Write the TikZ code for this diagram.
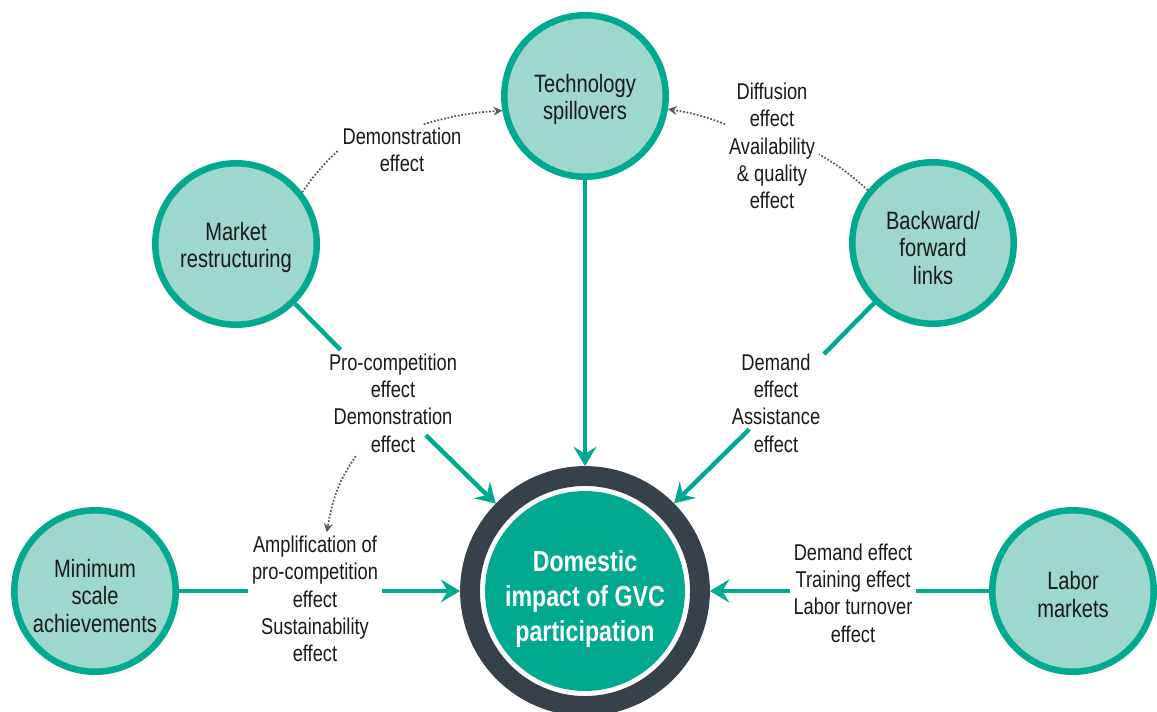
\documentclass[tikz,border=0pt]{standalone}
\usepackage{fontspec}
\setmainfont{Liberation Sans}[FakeStretch=0.8]
\usepackage{xcolor}
\usetikzlibrary{arrows.meta,positioning,calc}
\definecolor{gteal}{HTML}{00A98F}
\definecolor{glight}{HTML}{9DD7CD}
\definecolor{gdark}{HTML}{36414B}
\definecolor{gdot}{HTML}{5A5A5A}
\definecolor{gtext}{HTML}{1A1A1A}
\newcommand{\topgap}[1]{\rule{0pt}{#1}}
\tikzstyle{bubble}=[circle, draw=gteal, fill=glight, line width=3.7pt, minimum size=3.23cm, inner sep=0pt, align=center, text=gtext, font=\fontsize{14.3}{15.6}\selectfont]
\tikzstyle{effect}=[align=center, inner sep=2pt, text=gtext, font=\fontsize{13}{15.5}\selectfont]
\tikzstyle{core}=[circle, draw=gdark, fill=white, line width=11.3pt, minimum size=4.6cm, align=center, text=white, font=\fontsize{16.5}{19.8}\selectfont\bfseries, path picture={\fill[gteal] (path picture bounding box.center) circle (2cm);}]
\tikzstyle{flowline}=[draw=gteal, line width=2.5pt]
\tikzstyle{flow}=[flowline, -{Stealth[length=11pt, width=13pt, inset=4pt]}]
\tikzstyle{dotline}=[draw=gdot, line width=1pt, densely dotted]
\tikzstyle{dotarrow}=[dotline, -{Stealth[length=5pt, width=5pt]}]

\begin{document}
\begin{tikzpicture}[x=0.02cm, y=0.02cm]
    \useasboundingbox (0,0) rectangle (1157,711);

    \node[core] at (585,120) (dom) {\topgap{21pt}Domestic\\impact of GVC\\participation};
    \node[bubble] at (585,615) (tech) {\topgap{14.5pt}Technology\\spillovers};
    \node[bubble] at (236,467) (mkt) {\topgap{14.5pt}Market\\restructuring};
    \node[bubble] at (933,468) (bwd) {\topgap{16pt}Backward/\\forward\\links};
    \node[bubble] at (95,120) (mins) {\topgap{16pt}Minimum\\scale\\achievements};
    \node[bubble] at (1073,120) (labor) {\topgap{14.5pt}Labor\\markets};

    \node[effect] at (402,561) (demo) {Demonstration\\effect};
    \node[effect] at (772,565) (diff) {Diffusion\\effect\\Availability\\\& quality\\effect};
    \node[effect] at (393,308) (procomp) {Pro-competition\\effect\\Demonstration\\effect};
    \node[effect] at (776,308) (demand) {Demand\\effect\\Assistance\\effect};
    \node[effect] at (315,112) (ampl) {Amplification of\\pro-competition\\effect\\Sustainability\\effect};
    \node[effect] at (853,118) (labeff) {Demand effect\\Training effect\\Labor turnover\\effect};

    \draw[flow] (tech) -- (dom);
    \draw[flowline] (mkt) -- (procomp);
    \draw[flow, shorten <=-17pt] (procomp) -- (dom);
    \draw[flowline] (bwd) -- (demand);
    \draw[flow, shorten <=-17pt] (demand) -- (dom);
    \draw[flowline] (mins) -- (mins -| ampl.west);
    \draw[flow] (ampl.east |- mins) -- (dom);
    \draw[flowline] (labor) -- (labor -| labeff.east);
    \draw[flow] (labeff.west |- labor) -- (dom);

    \draw[dotline] (mkt.38) to[bend left=6] (demo.west);
    \draw[dotarrow] (demo.50) to[bend left=6] (tech.190);
    \draw[dotline] (bwd.141) to[bend right=6] (diff.-10);
    \draw[dotarrow] (diff.155) to[bend right=6] (tech.-9);
    \draw[dotarrow] (procomp.235) to[out=235, in=80] (ampl.80);
\end{tikzpicture}
\end{document}
